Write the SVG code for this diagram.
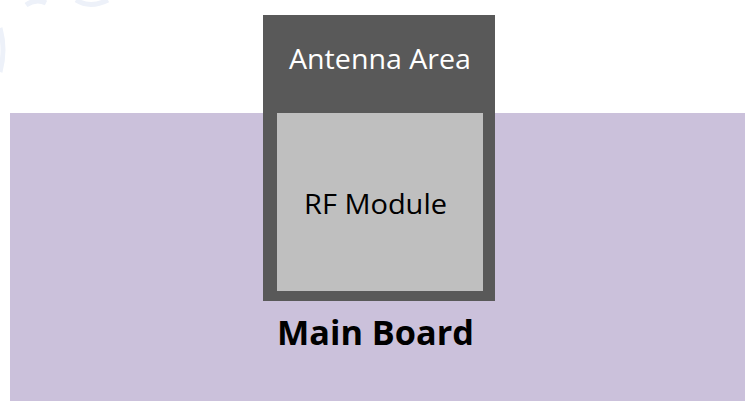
<svg xmlns="http://www.w3.org/2000/svg" width="745" height="401" viewBox="0 0 745 401">
<style>
.lbl{font-family:"Open Sans","Noto Sans",sans-serif;text-anchor:middle}
.wm{fill:none;stroke:#edf1f9;stroke-width:5}
</style>
<rect width="745" height="401" fill="#ffffff"/>
<g id="watermark">
<path class="wm" d="M0,28 Q6,50 0,72"/>
<path class="wm" d="M26,5 Q36,-2 46,3"/>
<path class="wm" d="M76,0 Q90,9 108,0"/>
</g>
<g id="main-board">
<rect x="10" y="113" width="735" height="288" fill="#cbc1db"/>
<text class="lbl" x="375.5" y="345" font-size="34" font-weight="bold" fill="#000000" textLength="197" lengthAdjust="spacingAndGlyphs">Main Board</text>
</g>
<g id="antenna-area">
<rect x="263" y="15" width="232" height="286" fill="#595959"/>
<text class="lbl" x="380" y="69" font-size="26.5" fill="#ffffff" textLength="182" lengthAdjust="spacingAndGlyphs">Antenna Area</text>
</g>
<g id="rf-module">
<rect x="277" y="113" width="206" height="178" fill="#bfbfbf"/>
<text class="lbl" x="375.5" y="214" font-size="26.5" fill="#000000" textLength="143" lengthAdjust="spacingAndGlyphs">RF Module</text>
</g>
<g id="connectors"/>
</svg>
